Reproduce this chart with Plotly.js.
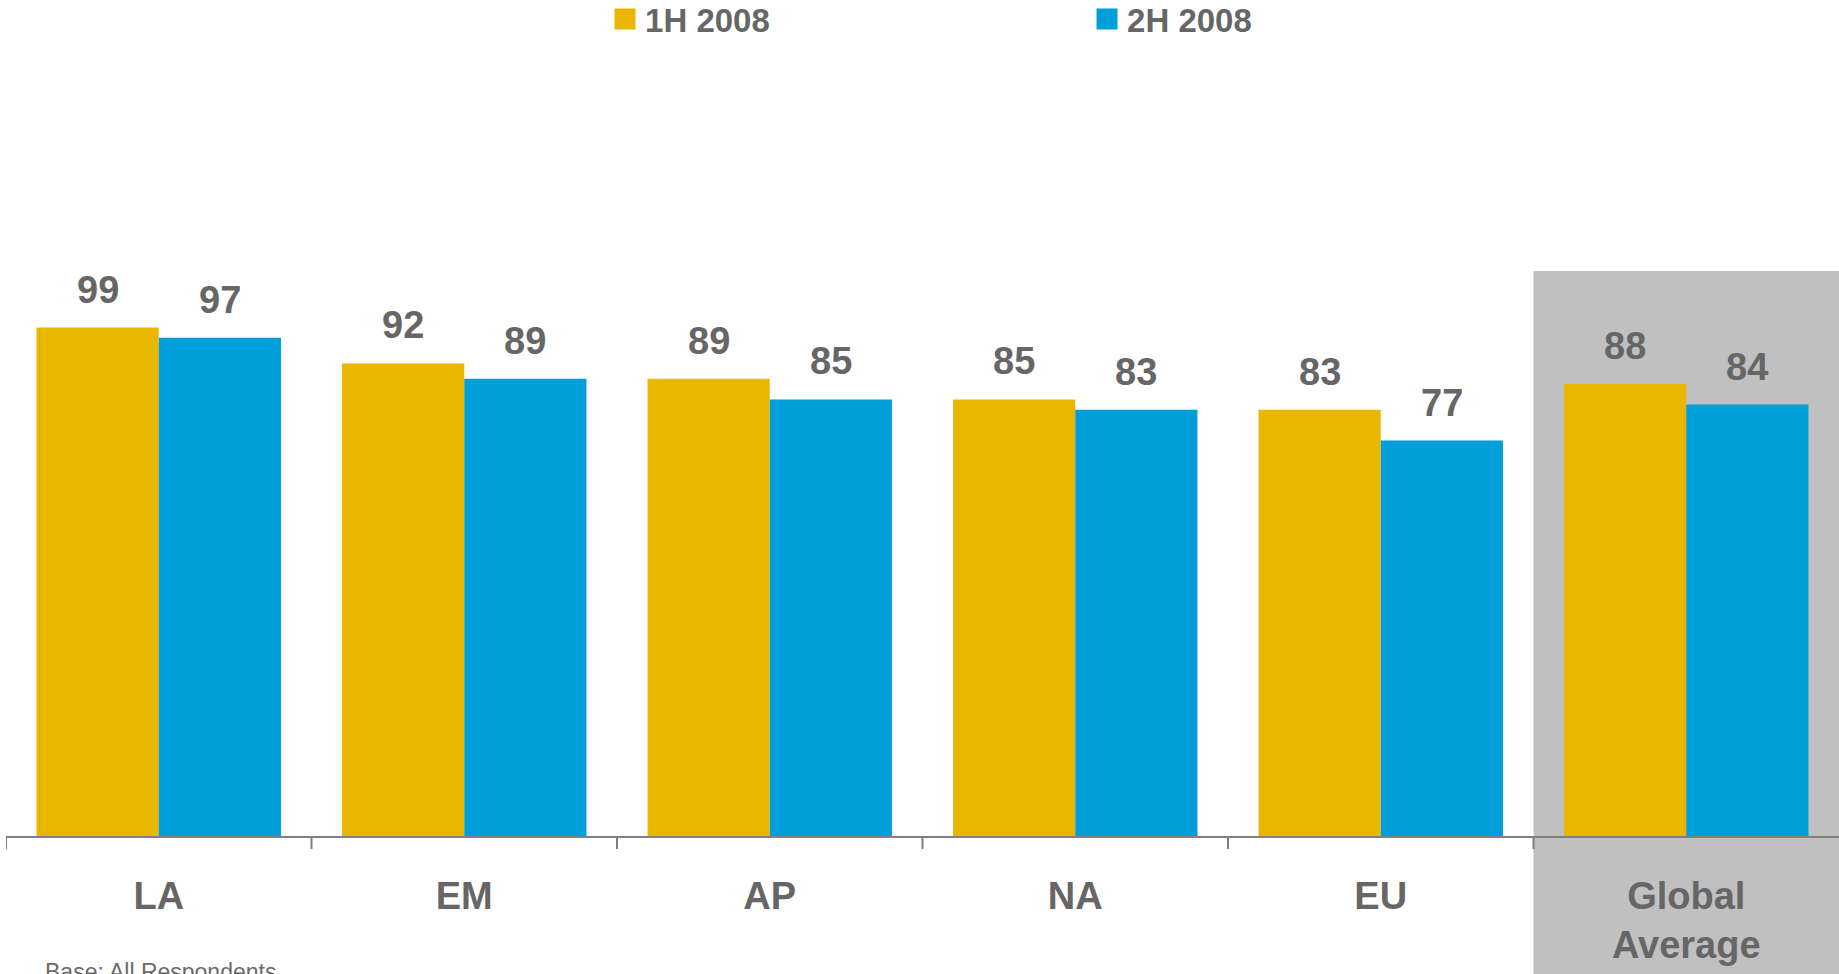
<!DOCTYPE html>
<html>
<head>
<meta charset="utf-8">
<script src="https://cdn.plot.ly/plotly-3.0.1.min.js"></script>
<style>
  html, body { margin: 0; padding: 0; background: #ffffff; }
  #chart { width: 1839px; height: 974px; }
</style>
</head>
<body>
<div id="chart"></div>
<script>
// ---- data ----
const categories = ["LA", "EM", "AP", "NA", "EU", "Global<br>Average"];
const series1Name = "1H 2008";
const series2Name = "2H 2008";
const series1Values = [99, 92, 89, 85, 83, 88];
const series2Values = [97, 89, 85, 83, 77, 84];
const footnote = "Base: All Respondents";

// ---- style ----
const yellow = "#EAB700";
const blue = "#009FDA";
const textGrey = "#666666";
const FONT = "'Liberation Sans', Arial, Helvetica, sans-serif";

const idx = categories.map((c, i) => i);

const traces = [
  {
    type: "bar", name: series1Name, x: idx, y: series1Values,
    marker: { color: yellow }, showlegend: false, hoverinfo: "y"
  },
  {
    type: "bar", name: series2Name, x: idx, y: series2Values,
    marker: { color: blue }, showlegend: false, hoverinfo: "y"
  },
  // legend entries (no data)
  {
    type: "scatter", mode: "markers", name: series1Name, x: [null], y: [null],
    marker: { symbol: "square", size: 16, color: yellow, line: { color: yellow, width: 5 } },
    showlegend: true, hoverinfo: "skip"
  },
  {
    type: "scatter", mode: "markers", name: series2Name, x: [null], y: [null],
    marker: { symbol: "square", size: 16, color: blue, line: { color: blue, width: 5 } },
    showlegend: true, hoverinfo: "skip"
  }
];

const labelFont = { family: FONT, size: 38, color: textGrey, weight: "bold" };
const annotations = [];
series1Values.forEach((v, i) => {
  annotations.push({ x: i - 0.2, y: v, xref: "x", yref: "y", text: String(v), showarrow: false,
    yanchor: "bottom", yshift: 15, font: labelFont });
});
series2Values.forEach((v, i) => {
  annotations.push({ x: i + 0.2, y: v, xref: "x", yref: "y", text: String(v), showarrow: false,
    yanchor: "bottom", yshift: 15, font: labelFont });
});
annotations.push({
  x: 0.0202, y: -0.215, xref: "paper", yref: "paper", xanchor: "left", yanchor: "top",
  text: footnote, showarrow: false,
  font: { family: FONT, size: 23, color: "#6a6a6a" }
});

const layout = {
  width: 1839, height: 974,
  margin: { l: 6, r: 0, t: 271, b: 138, pad: 0 },
  paper_bgcolor: "#ffffff", plot_bgcolor: "rgba(0,0,0,0)",
  barmode: "group", bargap: 0.2, bargroupgap: 0,
  font: { family: FONT, color: textGrey },
  xaxis: {
    type: "linear",
    range: [-0.5, categories.length - 0.5],
    tickmode: "array", tickvals: idx, ticktext: categories,
    showgrid: false, zeroline: false,
    showline: true, linecolor: "#7f7f7f", linewidth: 2,
    ticks: "",
    tickfont: { family: FONT, size: 38, color: textGrey, weight: "bold" },
    ticklabelstandoff: 25,
    fixedrange: true
  },
  yaxis: {
    range: [0, 110], visible: false, showgrid: false, zeroline: false, fixedrange: true
  },
  showlegend: true,
  legend: {
    orientation: "h", xref: "paper", yref: "container",
    x: 0.3268, xanchor: "left", y: 0.9805, yanchor: "middle",
    font: { family: FONT, size: 33, color: textGrey, weight: "bold" },
    entrywidth: 437, bgcolor: "rgba(0,0,0,0)", itemclick: false, itemdoubleclick: false
  },
  shapes: [
    // grey band behind the Global Average group
    { type: "rect", xref: "paper", yref: "paper", x0: 5 / 6, x1: 1.01, y0: -0.3, y1: 1,
      fillcolor: "#C0C0C0", line: { width: 0 }, layer: "below" }
  ].concat(
    // boundary ticks between category groups
    idx.map(i => ({ type: "line", xref: "x", yref: "paper", x0: i - 0.5, x1: i - 0.5,
      y0: 0, y1: -13 / 565, line: { color: "#7f7f7f", width: 2 } }))
  ),
  annotations: annotations
};

Plotly.newPlot("chart", traces, layout, { displayModeBar: false, staticPlot: true });
</script>
</body>
</html>
